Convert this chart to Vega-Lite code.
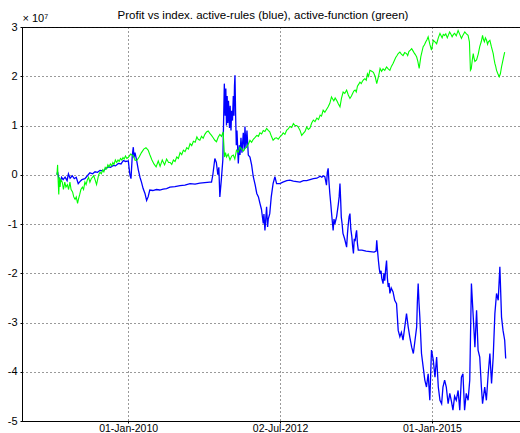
{
  "$schema": "https://vega.github.io/schema/vega-lite/v6.json",
  "width": 498,
  "height": 394,
  "autosize": {"type": "none"},
  "padding": {"left": 22, "top": 27, "right": 0, "bottom": 12},
  "background": "white",
  "config": {
    "view": {"stroke": "black", "strokeWidth": 1},
    "font": "Liberation Sans",
    "axis": {
      "labelFont": "Liberation Sans",
      "labelFontSize": 11,
      "labelColor": "black",
      "domainColor": "black",
      "tickColor": "black",
      "grid": true,
      "gridColor": "#111",
      "gridDash": [1, 3],
      "gridOpacity": 0.85,
      "gridWidth": 1
    }
  },
  "title": {
    "text": "Profit vs index. active-rules (blue), active-function (green)",
    "fontSize": 11.5,
    "fontWeight": "normal",
    "font": "Liberation Sans",
    "color": "black",
    "anchor": "middle",
    "frame": "group",
    "baseline": "alphabetic",
    "offset": -18,
    "dx": -8
  },
  "datasets": {
    "rules": [
      {"date": "2008-10-30", "v": 0.0},
      {"date": "2008-11-03", "v": 0.06},
      {"date": "2008-11-09", "v": -0.05},
      {"date": "2008-11-18", "v": -0.15},
      {"date": "2008-11-27", "v": -0.05},
      {"date": "2008-12-06", "v": -0.1},
      {"date": "2008-12-18", "v": -0.05},
      {"date": "2008-12-30", "v": -0.12},
      {"date": "2009-01-07", "v": 0.02},
      {"date": "2009-01-17", "v": -0.07},
      {"date": "2009-01-30", "v": -0.02},
      {"date": "2009-02-11", "v": -0.08},
      {"date": "2009-02-23", "v": -0.05},
      {"date": "2009-03-07", "v": -0.18},
      {"date": "2009-03-17", "v": -0.14},
      {"date": "2009-03-29", "v": -0.1},
      {"date": "2009-04-16", "v": -0.08},
      {"date": "2009-05-01", "v": -0.02},
      {"date": "2009-05-16", "v": 0.04},
      {"date": "2009-06-01", "v": 0.02},
      {"date": "2009-06-16", "v": 0.06},
      {"date": "2009-07-01", "v": 0.05},
      {"date": "2009-07-16", "v": 0.09},
      {"date": "2009-08-05", "v": 0.08},
      {"date": "2009-08-18", "v": 0.12},
      {"date": "2009-09-04", "v": 0.16},
      {"date": "2009-09-17", "v": 0.15},
      {"date": "2009-10-04", "v": 0.19},
      {"date": "2009-10-17", "v": 0.18},
      {"date": "2009-11-03", "v": 0.23},
      {"date": "2009-11-19", "v": 0.22},
      {"date": "2009-12-03", "v": 0.29},
      {"date": "2009-12-16", "v": 0.27},
      {"date": "2010-01-02", "v": 0.28},
      {"date": "2010-01-08", "v": 0.1},
      {"date": "2010-01-12", "v": -0.01},
      {"date": "2010-01-18", "v": -0.08},
      {"date": "2010-01-26", "v": 0.4},
      {"date": "2010-02-01", "v": 0.56},
      {"date": "2010-02-05", "v": 0.35},
      {"date": "2010-02-11", "v": 0.45},
      {"date": "2010-02-21", "v": 0.29},
      {"date": "2010-03-03", "v": 0.1},
      {"date": "2010-03-13", "v": -0.05},
      {"date": "2010-03-22", "v": -0.15},
      {"date": "2010-04-01", "v": -0.28},
      {"date": "2010-04-12", "v": -0.38},
      {"date": "2010-04-22", "v": -0.52},
      {"date": "2010-05-01", "v": -0.45},
      {"date": "2010-05-11", "v": -0.31},
      {"date": "2010-05-29", "v": -0.32},
      {"date": "2010-06-20", "v": -0.3},
      {"date": "2010-07-10", "v": -0.31},
      {"date": "2010-07-30", "v": -0.29},
      {"date": "2010-08-20", "v": -0.28},
      {"date": "2010-09-09", "v": -0.25},
      {"date": "2010-10-09", "v": -0.24},
      {"date": "2010-11-09", "v": -0.22},
      {"date": "2010-12-08", "v": -0.21},
      {"date": "2011-01-08", "v": -0.18},
      {"date": "2011-02-07", "v": -0.19},
      {"date": "2011-03-08", "v": -0.17},
      {"date": "2011-04-06", "v": -0.16},
      {"date": "2011-05-06", "v": -0.15},
      {"date": "2011-05-17", "v": -0.15},
      {"date": "2011-05-25", "v": 0.0},
      {"date": "2011-06-06", "v": 0.33},
      {"date": "2011-06-15", "v": 0.25},
      {"date": "2011-06-24", "v": 0.0},
      {"date": "2011-06-30", "v": 0.15},
      {"date": "2011-07-06", "v": -0.45},
      {"date": "2011-07-15", "v": -0.1},
      {"date": "2011-07-24", "v": 0.3},
      {"date": "2011-08-02", "v": 1.85},
      {"date": "2011-08-07", "v": 1.2},
      {"date": "2011-08-11", "v": 1.75},
      {"date": "2011-08-15", "v": 1.0},
      {"date": "2011-08-19", "v": 1.6},
      {"date": "2011-08-23", "v": 1.05},
      {"date": "2011-08-27", "v": 1.5},
      {"date": "2011-09-02", "v": 0.95},
      {"date": "2011-09-06", "v": 1.4},
      {"date": "2011-09-11", "v": 0.9},
      {"date": "2011-09-15", "v": 1.3},
      {"date": "2011-09-20", "v": 1.1},
      {"date": "2011-09-25", "v": 1.6},
      {"date": "2011-09-29", "v": 1.2},
      {"date": "2011-10-02", "v": 1.8},
      {"date": "2011-10-05", "v": 2.02},
      {"date": "2011-10-09", "v": 1.2},
      {"date": "2011-10-13", "v": 0.6},
      {"date": "2011-10-17", "v": 0.9},
      {"date": "2011-10-25", "v": 0.23},
      {"date": "2011-10-31", "v": 0.6},
      {"date": "2011-11-04", "v": 0.4},
      {"date": "2011-11-10", "v": 0.75},
      {"date": "2011-11-16", "v": 0.45},
      {"date": "2011-11-24", "v": 0.85},
      {"date": "2011-11-30", "v": 0.5},
      {"date": "2011-12-04", "v": 0.98},
      {"date": "2011-12-10", "v": 0.55},
      {"date": "2011-12-16", "v": 0.9},
      {"date": "2011-12-24", "v": 0.4},
      {"date": "2012-01-03", "v": 0.36},
      {"date": "2012-01-13", "v": 0.2},
      {"date": "2012-01-23", "v": -0.04},
      {"date": "2012-02-03", "v": -0.2},
      {"date": "2012-02-13", "v": -0.38},
      {"date": "2012-02-23", "v": -0.45},
      {"date": "2012-03-03", "v": -0.58},
      {"date": "2012-03-12", "v": -0.7},
      {"date": "2012-03-23", "v": -0.99},
      {"date": "2012-03-27", "v": -0.8},
      {"date": "2012-04-02", "v": -1.13},
      {"date": "2012-04-08", "v": -0.85},
      {"date": "2012-04-12", "v": -0.65},
      {"date": "2012-04-18", "v": -1.06},
      {"date": "2012-04-22", "v": -0.9},
      {"date": "2012-05-01", "v": -0.79},
      {"date": "2012-05-10", "v": -0.45},
      {"date": "2012-05-21", "v": -0.18},
      {"date": "2012-06-01", "v": -0.04},
      {"date": "2012-06-11", "v": -0.18},
      {"date": "2012-07-01", "v": -0.18},
      {"date": "2012-07-19", "v": -0.15},
      {"date": "2012-08-11", "v": -0.12},
      {"date": "2012-08-30", "v": -0.11},
      {"date": "2012-09-20", "v": -0.13},
      {"date": "2012-10-10", "v": -0.14},
      {"date": "2012-10-30", "v": -0.15},
      {"date": "2012-11-19", "v": -0.12},
      {"date": "2012-12-09", "v": -0.12},
      {"date": "2012-12-29", "v": -0.1},
      {"date": "2013-01-18", "v": -0.08},
      {"date": "2013-02-08", "v": -0.07},
      {"date": "2013-02-28", "v": -0.03},
      {"date": "2013-03-10", "v": -0.05},
      {"date": "2013-03-19", "v": -0.02},
      {"date": "2013-03-28", "v": -0.04},
      {"date": "2013-04-07", "v": -0.21},
      {"date": "2013-04-12", "v": 0.05},
      {"date": "2013-04-17", "v": 0.13},
      {"date": "2013-04-21", "v": -0.1},
      {"date": "2013-04-27", "v": -0.38},
      {"date": "2013-05-03", "v": -0.6},
      {"date": "2013-05-07", "v": -0.76},
      {"date": "2013-05-12", "v": -0.95},
      {"date": "2013-05-17", "v": -1.13},
      {"date": "2013-05-22", "v": -0.9},
      {"date": "2013-05-27", "v": -1.0},
      {"date": "2013-06-07", "v": -0.85},
      {"date": "2013-06-17", "v": -0.6},
      {"date": "2013-06-22", "v": -0.45},
      {"date": "2013-06-27", "v": -0.18},
      {"date": "2013-07-01", "v": -0.5},
      {"date": "2013-07-05", "v": -0.86},
      {"date": "2013-07-10", "v": -1.0},
      {"date": "2013-07-15", "v": -1.19},
      {"date": "2013-07-25", "v": -1.3},
      {"date": "2013-08-06", "v": -1.47},
      {"date": "2013-08-11", "v": -1.2},
      {"date": "2013-08-16", "v": -1.0},
      {"date": "2013-08-21", "v": -0.85},
      {"date": "2013-08-26", "v": -0.79},
      {"date": "2013-08-31", "v": -1.1},
      {"date": "2013-09-06", "v": -1.25},
      {"date": "2013-09-11", "v": -1.45},
      {"date": "2013-09-16", "v": -1.6},
      {"date": "2013-09-21", "v": -1.3},
      {"date": "2013-09-26", "v": -1.35},
      {"date": "2013-10-01", "v": -1.2},
      {"date": "2013-10-05", "v": -1.13},
      {"date": "2013-10-10", "v": -1.4},
      {"date": "2013-10-15", "v": -1.53},
      {"date": "2013-11-06", "v": -1.53},
      {"date": "2013-12-01", "v": -1.55},
      {"date": "2013-12-25", "v": -1.56},
      {"date": "2014-01-18", "v": -1.57},
      {"date": "2014-01-30", "v": -1.55},
      {"date": "2014-02-03", "v": -1.33},
      {"date": "2014-02-08", "v": -1.55},
      {"date": "2014-02-13", "v": -1.74},
      {"date": "2014-02-18", "v": -1.9},
      {"date": "2014-02-23", "v": -2.01},
      {"date": "2014-03-01", "v": -1.95},
      {"date": "2014-03-05", "v": -2.1},
      {"date": "2014-03-13", "v": -2.21},
      {"date": "2014-03-18", "v": -2.0},
      {"date": "2014-03-23", "v": -2.15},
      {"date": "2014-03-29", "v": -1.9},
      {"date": "2014-04-03", "v": -1.74},
      {"date": "2014-04-08", "v": -2.1},
      {"date": "2014-04-13", "v": -2.28},
      {"date": "2014-04-18", "v": -2.2},
      {"date": "2014-04-23", "v": -2.41},
      {"date": "2014-05-01", "v": -2.3},
      {"date": "2014-05-12", "v": -2.38},
      {"date": "2014-05-22", "v": -2.55},
      {"date": "2014-06-02", "v": -2.62},
      {"date": "2014-06-12", "v": -3.16},
      {"date": "2014-06-22", "v": -3.29},
      {"date": "2014-07-01", "v": -3.2},
      {"date": "2014-07-11", "v": -3.36},
      {"date": "2014-07-21", "v": -3.1},
      {"date": "2014-08-01", "v": -2.82},
      {"date": "2014-08-11", "v": -3.09},
      {"date": "2014-08-21", "v": -3.3},
      {"date": "2014-09-01", "v": -3.5},
      {"date": "2014-09-11", "v": -3.63},
      {"date": "2014-09-21", "v": -3.36},
      {"date": "2014-10-01", "v": -3.09},
      {"date": "2014-10-05", "v": -2.6},
      {"date": "2014-10-10", "v": -2.21},
      {"date": "2014-10-15", "v": -2.6},
      {"date": "2014-10-20", "v": -2.89},
      {"date": "2014-10-30", "v": -3.63},
      {"date": "2014-11-09", "v": -3.9},
      {"date": "2014-11-19", "v": -4.17},
      {"date": "2014-11-29", "v": -4.31},
      {"date": "2014-12-09", "v": -4.04},
      {"date": "2014-12-19", "v": -4.58},
      {"date": "2014-12-29", "v": -3.56},
      {"date": "2015-01-09", "v": -3.77},
      {"date": "2015-01-19", "v": -4.11},
      {"date": "2015-01-29", "v": -3.7},
      {"date": "2015-02-08", "v": -4.31},
      {"date": "2015-02-18", "v": -4.58},
      {"date": "2015-02-28", "v": -4.65},
      {"date": "2015-03-08", "v": -4.31},
      {"date": "2015-03-18", "v": -4.17},
      {"date": "2015-03-28", "v": -4.31},
      {"date": "2015-04-08", "v": -4.65},
      {"date": "2015-04-18", "v": -4.44},
      {"date": "2015-04-28", "v": -4.6},
      {"date": "2015-05-07", "v": -4.78},
      {"date": "2015-05-17", "v": -4.5},
      {"date": "2015-05-27", "v": -4.58},
      {"date": "2015-06-07", "v": -4.38},
      {"date": "2015-06-17", "v": -4.78},
      {"date": "2015-06-27", "v": -4.11},
      {"date": "2015-07-06", "v": -4.04},
      {"date": "2015-07-16", "v": -4.78},
      {"date": "2015-07-26", "v": -4.44},
      {"date": "2015-08-06", "v": -4.58},
      {"date": "2015-08-16", "v": -4.17},
      {"date": "2015-08-26", "v": -2.21},
      {"date": "2015-09-06", "v": -2.89},
      {"date": "2015-09-16", "v": -3.5},
      {"date": "2015-09-26", "v": -2.75},
      {"date": "2015-10-05", "v": -3.56},
      {"date": "2015-10-15", "v": -3.7},
      {"date": "2015-10-25", "v": -4.31},
      {"date": "2015-11-01", "v": -4.65},
      {"date": "2015-11-14", "v": -4.31},
      {"date": "2015-11-24", "v": -4.58},
      {"date": "2015-12-05", "v": -4.04},
      {"date": "2015-12-15", "v": -3.63},
      {"date": "2015-12-25", "v": -4.24},
      {"date": "2016-01-04", "v": -3.7},
      {"date": "2016-01-14", "v": -2.82},
      {"date": "2016-01-24", "v": -2.41},
      {"date": "2016-02-03", "v": -2.55},
      {"date": "2016-02-13", "v": -1.87},
      {"date": "2016-02-23", "v": -2.89},
      {"date": "2016-03-03", "v": -3.16},
      {"date": "2016-03-13", "v": -3.36},
      {"date": "2016-03-19", "v": -3.73}
    ],
    "function": [
      {"date": "2008-10-30", "v": 0.0},
      {"date": "2008-11-03", "v": 0.2},
      {"date": "2008-11-06", "v": -0.1},
      {"date": "2008-11-10", "v": -0.4},
      {"date": "2008-11-14", "v": -0.05},
      {"date": "2008-11-18", "v": -0.25},
      {"date": "2008-11-22", "v": -0.1},
      {"date": "2008-12-01", "v": -0.15},
      {"date": "2008-12-08", "v": -0.3},
      {"date": "2008-12-16", "v": -0.15},
      {"date": "2008-12-23", "v": -0.25},
      {"date": "2009-01-01", "v": -0.2},
      {"date": "2009-01-08", "v": -0.3},
      {"date": "2009-01-16", "v": -0.15},
      {"date": "2009-01-23", "v": -0.3},
      {"date": "2009-02-01", "v": -0.35},
      {"date": "2009-02-08", "v": -0.45},
      {"date": "2009-02-16", "v": -0.5},
      {"date": "2009-02-23", "v": -0.45},
      {"date": "2009-03-03", "v": -0.58},
      {"date": "2009-03-08", "v": -0.5},
      {"date": "2009-03-16", "v": -0.4},
      {"date": "2009-03-23", "v": -0.3},
      {"date": "2009-04-01", "v": -0.25},
      {"date": "2009-04-08", "v": -0.3},
      {"date": "2009-04-16", "v": -0.15},
      {"date": "2009-04-23", "v": -0.2},
      {"date": "2009-05-01", "v": -0.1},
      {"date": "2009-05-08", "v": -0.05},
      {"date": "2009-05-16", "v": -0.15},
      {"date": "2009-05-24", "v": -0.08},
      {"date": "2009-06-01", "v": -0.05},
      {"date": "2009-06-08", "v": -0.02},
      {"date": "2009-06-16", "v": -0.1},
      {"date": "2009-06-25", "v": -0.2},
      {"date": "2009-07-08", "v": 0.0},
      {"date": "2009-07-16", "v": 0.05},
      {"date": "2009-07-24", "v": 0.02},
      {"date": "2009-08-01", "v": 0.1},
      {"date": "2009-08-08", "v": 0.06},
      {"date": "2009-08-16", "v": 0.15},
      {"date": "2009-08-24", "v": 0.12},
      {"date": "2009-09-01", "v": 0.2},
      {"date": "2009-09-08", "v": 0.16},
      {"date": "2009-09-16", "v": 0.22},
      {"date": "2009-09-24", "v": 0.18},
      {"date": "2009-10-01", "v": 0.25},
      {"date": "2009-10-08", "v": 0.21},
      {"date": "2009-10-16", "v": 0.3},
      {"date": "2009-10-24", "v": 0.25},
      {"date": "2009-11-01", "v": 0.3},
      {"date": "2009-11-08", "v": 0.27},
      {"date": "2009-11-16", "v": 0.33},
      {"date": "2009-11-24", "v": 0.3},
      {"date": "2009-12-01", "v": 0.35},
      {"date": "2009-12-08", "v": 0.32},
      {"date": "2009-12-16", "v": 0.38},
      {"date": "2009-12-24", "v": 0.33},
      {"date": "2010-01-01", "v": 0.35},
      {"date": "2010-01-16", "v": 0.42},
      {"date": "2010-02-01", "v": 0.38},
      {"date": "2010-02-12", "v": 0.29},
      {"date": "2010-02-24", "v": 0.3},
      {"date": "2010-03-08", "v": 0.36},
      {"date": "2010-03-22", "v": 0.45},
      {"date": "2010-04-05", "v": 0.52},
      {"date": "2010-04-18", "v": 0.55},
      {"date": "2010-05-01", "v": 0.5},
      {"date": "2010-05-12", "v": 0.4},
      {"date": "2010-05-24", "v": 0.3},
      {"date": "2010-06-05", "v": 0.22},
      {"date": "2010-06-18", "v": 0.16},
      {"date": "2010-07-01", "v": 0.28},
      {"date": "2010-07-12", "v": 0.17},
      {"date": "2010-07-25", "v": 0.3},
      {"date": "2010-08-08", "v": 0.2},
      {"date": "2010-08-20", "v": 0.32},
      {"date": "2010-09-01", "v": 0.25},
      {"date": "2010-09-10", "v": 0.25},
      {"date": "2010-09-20", "v": 0.21},
      {"date": "2010-09-30", "v": 0.3},
      {"date": "2010-10-10", "v": 0.27},
      {"date": "2010-10-20", "v": 0.36},
      {"date": "2010-10-30", "v": 0.33},
      {"date": "2010-11-09", "v": 0.45},
      {"date": "2010-11-19", "v": 0.41},
      {"date": "2010-11-29", "v": 0.5},
      {"date": "2010-12-09", "v": 0.47},
      {"date": "2010-12-19", "v": 0.55},
      {"date": "2010-12-29", "v": 0.52},
      {"date": "2011-01-08", "v": 0.63},
      {"date": "2011-01-18", "v": 0.59},
      {"date": "2011-01-28", "v": 0.68},
      {"date": "2011-02-08", "v": 0.66},
      {"date": "2011-02-18", "v": 0.77},
      {"date": "2011-02-26", "v": 0.72},
      {"date": "2011-03-08", "v": 0.7},
      {"date": "2011-03-18", "v": 0.78},
      {"date": "2011-03-28", "v": 0.74},
      {"date": "2011-04-07", "v": 0.82},
      {"date": "2011-04-17", "v": 0.87},
      {"date": "2011-04-27", "v": 0.89},
      {"date": "2011-05-07", "v": 0.84},
      {"date": "2011-05-17", "v": 0.8},
      {"date": "2011-05-27", "v": 0.75},
      {"date": "2011-06-06", "v": 0.7},
      {"date": "2011-06-16", "v": 0.67},
      {"date": "2011-06-26", "v": 0.76},
      {"date": "2011-07-06", "v": 0.82},
      {"date": "2011-07-16", "v": 0.78},
      {"date": "2011-07-26", "v": 0.87},
      {"date": "2011-08-03", "v": 0.36},
      {"date": "2011-08-09", "v": 0.45},
      {"date": "2011-08-15", "v": 0.36},
      {"date": "2011-08-25", "v": 0.42},
      {"date": "2011-09-05", "v": 0.3},
      {"date": "2011-09-15", "v": 0.38},
      {"date": "2011-09-25", "v": 0.4},
      {"date": "2011-10-04", "v": 0.32},
      {"date": "2011-10-14", "v": 0.5},
      {"date": "2011-10-24", "v": 0.46},
      {"date": "2011-11-04", "v": 0.56},
      {"date": "2011-11-14", "v": 0.52},
      {"date": "2011-11-24", "v": 0.48},
      {"date": "2011-12-04", "v": 0.53},
      {"date": "2011-12-14", "v": 0.56},
      {"date": "2011-12-24", "v": 0.62},
      {"date": "2012-01-03", "v": 0.7},
      {"date": "2012-01-13", "v": 0.66},
      {"date": "2012-01-23", "v": 0.72},
      {"date": "2012-02-03", "v": 0.76},
      {"date": "2012-02-13", "v": 0.8},
      {"date": "2012-02-23", "v": 0.78},
      {"date": "2012-03-03", "v": 0.85},
      {"date": "2012-03-13", "v": 0.83},
      {"date": "2012-03-23", "v": 0.9},
      {"date": "2012-04-02", "v": 0.88},
      {"date": "2012-04-12", "v": 0.94},
      {"date": "2012-04-22", "v": 0.9},
      {"date": "2012-05-01", "v": 0.87},
      {"date": "2012-05-11", "v": 0.78},
      {"date": "2012-05-21", "v": 0.7},
      {"date": "2012-06-01", "v": 0.74},
      {"date": "2012-06-11", "v": 0.75},
      {"date": "2012-06-21", "v": 0.72},
      {"date": "2012-07-01", "v": 0.77},
      {"date": "2012-07-11", "v": 0.8},
      {"date": "2012-07-21", "v": 0.85},
      {"date": "2012-07-31", "v": 0.82},
      {"date": "2012-08-10", "v": 0.9},
      {"date": "2012-08-20", "v": 0.93},
      {"date": "2012-08-30", "v": 0.98},
      {"date": "2012-09-10", "v": 0.96},
      {"date": "2012-09-20", "v": 1.04},
      {"date": "2012-09-30", "v": 1.0},
      {"date": "2012-10-10", "v": 1.0},
      {"date": "2012-10-19", "v": 0.97},
      {"date": "2012-10-30", "v": 0.9},
      {"date": "2012-11-09", "v": 0.8},
      {"date": "2012-11-19", "v": 0.84},
      {"date": "2012-11-29", "v": 0.88},
      {"date": "2012-12-09", "v": 0.97},
      {"date": "2012-12-19", "v": 0.92},
      {"date": "2012-12-29", "v": 0.95},
      {"date": "2013-01-08", "v": 1.05},
      {"date": "2013-01-18", "v": 1.11},
      {"date": "2013-01-28", "v": 1.08},
      {"date": "2013-02-08", "v": 1.15},
      {"date": "2013-02-18", "v": 1.12},
      {"date": "2013-02-28", "v": 1.21},
      {"date": "2013-03-08", "v": 1.19},
      {"date": "2013-03-18", "v": 1.31},
      {"date": "2013-03-28", "v": 1.27},
      {"date": "2013-04-08", "v": 1.33},
      {"date": "2013-04-17", "v": 1.38},
      {"date": "2013-04-27", "v": 1.45},
      {"date": "2013-05-07", "v": 1.58},
      {"date": "2013-05-14", "v": 1.54},
      {"date": "2013-05-21", "v": 1.5},
      {"date": "2013-05-29", "v": 1.56},
      {"date": "2013-06-07", "v": 1.51},
      {"date": "2013-06-17", "v": 1.44},
      {"date": "2013-06-27", "v": 1.38},
      {"date": "2013-07-06", "v": 1.55},
      {"date": "2013-07-16", "v": 1.68},
      {"date": "2013-07-26", "v": 1.65},
      {"date": "2013-08-06", "v": 1.72},
      {"date": "2013-08-16", "v": 1.62},
      {"date": "2013-08-26", "v": 1.55},
      {"date": "2013-09-04", "v": 1.6},
      {"date": "2013-09-11", "v": 1.65},
      {"date": "2013-09-18", "v": 1.7},
      {"date": "2013-09-26", "v": 1.72},
      {"date": "2013-10-03", "v": 1.68},
      {"date": "2013-10-10", "v": 1.8},
      {"date": "2013-10-18", "v": 1.84},
      {"date": "2013-10-25", "v": 1.88},
      {"date": "2013-11-02", "v": 1.85},
      {"date": "2013-11-09", "v": 1.9},
      {"date": "2013-11-16", "v": 1.93},
      {"date": "2013-11-24", "v": 1.95},
      {"date": "2013-12-02", "v": 1.92},
      {"date": "2013-12-09", "v": 2.05},
      {"date": "2013-12-16", "v": 2.0},
      {"date": "2013-12-24", "v": 2.12},
      {"date": "2014-01-04", "v": 2.1},
      {"date": "2014-01-14", "v": 2.08},
      {"date": "2014-01-24", "v": 2.0},
      {"date": "2014-02-03", "v": 1.85},
      {"date": "2014-02-14", "v": 2.0},
      {"date": "2014-02-23", "v": 2.16},
      {"date": "2014-03-04", "v": 2.1},
      {"date": "2014-03-13", "v": 2.15},
      {"date": "2014-03-23", "v": 2.12},
      {"date": "2014-04-03", "v": 2.19},
      {"date": "2014-04-13", "v": 2.15},
      {"date": "2014-04-23", "v": 2.12},
      {"date": "2014-05-02", "v": 2.2},
      {"date": "2014-05-12", "v": 2.26},
      {"date": "2014-05-20", "v": 2.32},
      {"date": "2014-05-28", "v": 2.38},
      {"date": "2014-06-05", "v": 2.42},
      {"date": "2014-06-12", "v": 2.46},
      {"date": "2014-06-22", "v": 2.49},
      {"date": "2014-07-01", "v": 2.45},
      {"date": "2014-07-11", "v": 2.42},
      {"date": "2014-07-21", "v": 2.48},
      {"date": "2014-08-01", "v": 2.46},
      {"date": "2014-08-08", "v": 2.42},
      {"date": "2014-08-15", "v": 2.5},
      {"date": "2014-08-24", "v": 2.53},
      {"date": "2014-09-01", "v": 2.56},
      {"date": "2014-09-08", "v": 2.52},
      {"date": "2014-09-15", "v": 2.48},
      {"date": "2014-09-23", "v": 2.44},
      {"date": "2014-10-01", "v": 2.39},
      {"date": "2014-10-08", "v": 2.3},
      {"date": "2014-10-16", "v": 2.16},
      {"date": "2014-10-26", "v": 2.4},
      {"date": "2014-11-02", "v": 2.5},
      {"date": "2014-11-09", "v": 2.6},
      {"date": "2014-11-17", "v": 2.64},
      {"date": "2014-11-25", "v": 2.7},
      {"date": "2014-12-02", "v": 2.74},
      {"date": "2014-12-09", "v": 2.8},
      {"date": "2014-12-19", "v": 2.65},
      {"date": "2014-12-29", "v": 2.53},
      {"date": "2015-01-09", "v": 2.73},
      {"date": "2015-01-19", "v": 2.7},
      {"date": "2015-01-29", "v": 2.66},
      {"date": "2015-02-08", "v": 2.78},
      {"date": "2015-02-18", "v": 2.87},
      {"date": "2015-02-25", "v": 2.82},
      {"date": "2015-03-03", "v": 2.78},
      {"date": "2015-03-10", "v": 2.85},
      {"date": "2015-03-18", "v": 2.83},
      {"date": "2015-03-25", "v": 2.86},
      {"date": "2015-04-03", "v": 2.78},
      {"date": "2015-04-10", "v": 2.84},
      {"date": "2015-04-17", "v": 2.9},
      {"date": "2015-04-24", "v": 2.86},
      {"date": "2015-05-02", "v": 2.8},
      {"date": "2015-05-10", "v": 2.85},
      {"date": "2015-05-17", "v": 2.87},
      {"date": "2015-05-27", "v": 2.82},
      {"date": "2015-06-07", "v": 2.93},
      {"date": "2015-06-17", "v": 2.85},
      {"date": "2015-06-27", "v": 2.77},
      {"date": "2015-07-07", "v": 2.84},
      {"date": "2015-07-17", "v": 2.9},
      {"date": "2015-07-27", "v": 2.86},
      {"date": "2015-08-06", "v": 2.83},
      {"date": "2015-08-14", "v": 2.7},
      {"date": "2015-08-20", "v": 2.12},
      {"date": "2015-08-25", "v": 2.15},
      {"date": "2015-09-01", "v": 2.35},
      {"date": "2015-09-06", "v": 2.46},
      {"date": "2015-09-11", "v": 2.36},
      {"date": "2015-09-16", "v": 2.3},
      {"date": "2015-09-26", "v": 2.33},
      {"date": "2015-10-06", "v": 2.45},
      {"date": "2015-10-15", "v": 2.6},
      {"date": "2015-10-24", "v": 2.7},
      {"date": "2015-11-01", "v": 2.83},
      {"date": "2015-11-06", "v": 2.75},
      {"date": "2015-11-12", "v": 2.7},
      {"date": "2015-11-18", "v": 2.78},
      {"date": "2015-11-25", "v": 2.73},
      {"date": "2015-12-01", "v": 2.65},
      {"date": "2015-12-06", "v": 2.7},
      {"date": "2015-12-15", "v": 2.73},
      {"date": "2015-12-24", "v": 2.6},
      {"date": "2016-01-04", "v": 2.46},
      {"date": "2016-01-09", "v": 2.35},
      {"date": "2016-01-14", "v": 2.26},
      {"date": "2016-01-19", "v": 2.2},
      {"date": "2016-01-24", "v": 2.12},
      {"date": "2016-02-01", "v": 2.05},
      {"date": "2016-02-09", "v": 1.99},
      {"date": "2016-02-16", "v": 2.05},
      {"date": "2016-02-23", "v": 2.19},
      {"date": "2016-03-01", "v": 2.3},
      {"date": "2016-03-07", "v": 2.4},
      {"date": "2016-03-13", "v": 2.49}
    ]
  },
  "encoding": {
    "x": {
      "field": "date",
      "type": "temporal",
      "scale": {
        "type": "utc",
        "domain": [
          {"year": 2008, "month": 4, "date": 3, "utc": true},
          {"year": 2016, "month": 6, "date": 13, "utc": true}
        ]
      },
      "axis": {
        "title": null,
        "values": [
          {"year": 2010, "month": 1, "date": 1, "utc": true},
          {"year": 2012, "month": 7, "date": 2, "utc": true},
          {"year": 2015, "month": 1, "date": 1, "utc": true}
        ],
        "format": "%d-%b-%Y",
        "tickSize": 2,
        "labelPadding": 8,
        "labelBaseline": "alphabetic",
        "labelFontSize": 10.5,
        "labelFlush": false
      }
    },
    "y": {
      "field": "v",
      "type": "quantitative",
      "scale": {"domain": [-5, 3], "nice": false, "zero": false},
      "axis": {
        "title": "× 10⁷",
        "titleAngle": 0,
        "titleAlign": "left",
        "titleBaseline": "alphabetic",
        "titleX": 0,
        "titleY": -6,
        "titleFontSize": 11,
        "titleFontWeight": "normal",
        "titleFont": "Liberation Sans",
        "titleColor": "black",
        "values": [-5, -4, -3, -2, -1, 0, 1, 2, 3],
        "labelExpr": "'' + datum.value",
        "tickSize": 2,
        "labelPadding": 3,
        "labelFlush": false
      }
    }
  },
  "layer": [
    {
      "data": {"name": "rules"},
      "mark": {"type": "line", "color": "#0000ff", "strokeWidth": 1.3, "clip": true}
    },
    {
      "data": {"name": "function"},
      "mark": {"type": "line", "color": "#00ff00", "strokeWidth": 1.1, "clip": true}
    }
  ]
}
